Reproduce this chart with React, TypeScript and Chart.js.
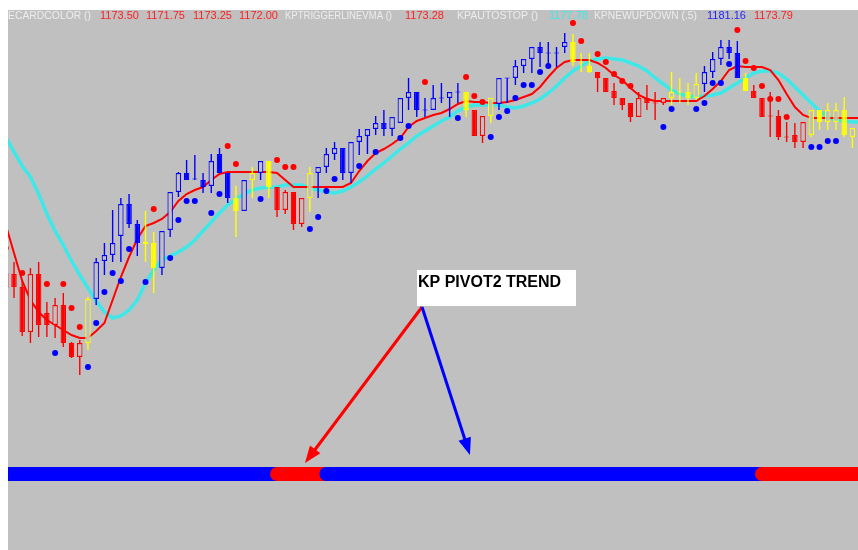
import { useEffect, useRef } from "react";
import { Chart, registerables } from "chart.js";

Chart.register(...registerables);

// ---------------- data ----------------
const FIRST_BAR = -1; // bar number of the first entry in every per-bar array

// candle colour from KP card colour study: R = red, B = blue, Y = yellow
const candleColors = [
  "R", "R", "R", "R", "R", "R", "R", "R", "R", "R",
  "Y", "B", "B", "B", "B", "B", "B", "Y", "Y", "B",
  "B", "B", "B", "B", "B", "B", "B", "B", "Y", "B",
  "Y", "B", "Y", "R", "R", "R", "R", "Y", "B", "B",
  "B", "B", "B", "B", "B", "B", "B", "B", "B", "B",
  "B", "B", "B", "B", "B", "B", "Y", "R", "R", "Y",
  "B", "B", "B", "B", "B", "B", "B", "B", "B", "Y",
  "Y", "Y", "R", "R", "R", "R", "R", "R", "R", "R",
  "R", "Y", "Y", "Y", "Y", "B", "B", "B", "B", "B",
  "Y", "R", "R", "R", "R", "R", "R", "R", "Y", "Y",
  "Y", "Y", "Y", "Y",
];

const opens = [
  1157.7, 1157.6, 1156.3, 1151.8, 1157.6, 1153.7, 1152.5, 1154.5, 1150.7, 1149.3,
  1150.7, 1155.1, 1158.9, 1159.5, 1161.4, 1164.6, 1162.6, 1160.8, 1160.7, 1158.2,
  1162.0, 1165.8, 1167.7, 1167.1, 1167.0, 1166.4, 1169.6, 1167.7, 1165.2, 1163.9,
  1167.0, 1167.7, 1168.9, 1166.3, 1164.0, 1165.8, 1162.6, 1165.2, 1167.7, 1168.3,
  1169.6, 1170.2, 1167.7, 1170.8, 1171.4, 1172.1, 1172.7, 1172.1, 1172.7, 1175.2,
  1175.8, 1174.0, 1174.0, 1175.2, 1175.2, 1175.8, 1175.8, 1174.0, 1171.4, 1173.4,
  1174.6, 1177.2, 1177.2, 1178.4, 1179.1, 1180.3, 1179.7, 1179.7, 1180.3, 1180.8,
  1178.7, 1178.4, 1177.8, 1177.2, 1175.9, 1175.2, 1174.7, 1173.3, 1175.2, 1174.7,
  1174.7, 1175.2, 1175.8, 1175.8, 1175.2, 1176.6, 1177.8, 1179.1, 1180.3, 1179.7,
  1177.2, 1175.9, 1175.2, 1173.4, 1173.4, 1171.3, 1171.5, 1170.8, 1171.5, 1174.0,
  1172.8, 1172.8, 1174.0, 1171.3,
];

const highs = [
  1158.2, 1158.8, 1157.0, 1158.2, 1158.8, 1154.8, 1155.2, 1155.7, 1150.8, 1151.0,
  1155.3, 1159.2, 1160.7, 1164.0, 1165.2, 1165.6, 1163.0, 1163.9, 1161.8, 1161.9,
  1165.8, 1167.8, 1169.0, 1169.5, 1167.7, 1169.6, 1170.2, 1167.7, 1166.4, 1167.0,
  1168.3, 1168.9, 1168.9, 1166.3, 1166.0, 1165.8, 1165.2, 1168.3, 1168.3, 1170.2,
  1170.8, 1170.2, 1170.8, 1172.1, 1172.1, 1173.4, 1174.0, 1173.3, 1175.2, 1177.2,
  1175.8, 1175.2, 1176.5, 1176.7, 1175.8, 1176.7, 1175.8, 1174.0, 1173.4, 1175.2,
  1177.2, 1177.2, 1179.0, 1179.1, 1180.3, 1180.8, 1180.8, 1180.3, 1181.7, 1181.6,
  1179.7, 1179.7, 1177.8, 1177.2, 1176.7, 1175.2, 1174.7, 1175.8, 1176.5, 1175.8,
  1175.2, 1177.8, 1177.2, 1176.7, 1177.7, 1178.4, 1179.8, 1181.0, 1181.0, 1180.9,
  1177.7, 1176.5, 1175.2, 1175.8, 1174.0, 1172.8, 1172.7, 1172.8, 1174.0, 1174.0,
  1174.7, 1174.7, 1175.3, 1172.2,
];

const lows = [
  1155.8, 1155.2, 1151.4, 1150.7, 1151.3, 1151.3, 1151.2, 1150.3, 1149.2, 1147.5,
  1150.0, 1154.5, 1157.5, 1158.8, 1158.8, 1162.2, 1159.4, 1158.8, 1155.7, 1157.5,
  1161.3, 1165.3, 1167.0, 1167.0, 1165.7, 1165.7, 1167.7, 1164.7, 1161.3, 1163.9,
  1165.2, 1167.0, 1165.2, 1163.3, 1163.6, 1162.0, 1162.3, 1163.8, 1165.2, 1167.7,
  1169.0, 1167.0, 1166.7, 1169.5, 1169.6, 1171.5, 1171.4, 1171.4, 1172.7, 1174.0,
  1173.3, 1173.3, 1174.0, 1174.7, 1173.3, 1174.7, 1173.3, 1171.4, 1170.7, 1172.7,
  1174.0, 1174.7, 1176.5, 1177.7, 1177.7, 1178.3, 1178.3, 1178.3, 1179.7, 1178.4,
  1177.8, 1177.7, 1175.8, 1175.8, 1174.5, 1174.0, 1172.8, 1173.3, 1174.0, 1173.0,
  1174.5, 1174.5, 1174.7, 1174.5, 1175.0, 1175.8, 1177.2, 1178.5, 1179.1, 1177.2,
  1175.9, 1175.2, 1173.3, 1171.3, 1171.0, 1170.8, 1170.2, 1170.2, 1171.3, 1172.0,
  1172.0, 1172.0, 1171.3, 1170.2,
];

const closes = [
  1156.2, 1156.3, 1151.8, 1157.6, 1152.5, 1152.5, 1154.5, 1150.7, 1149.3, 1150.7,
  1155.1, 1158.8, 1159.5, 1160.7, 1164.6, 1162.6, 1160.7, 1160.6, 1158.2, 1161.9,
  1165.8, 1167.7, 1167.0, 1167.1, 1166.3, 1168.9, 1167.7, 1165.2, 1163.9, 1167.0,
  1167.7, 1168.9, 1166.3, 1164.0, 1165.8, 1162.6, 1165.2, 1167.7, 1168.3, 1169.6,
  1170.2, 1167.7, 1170.8, 1171.4, 1172.1, 1172.7, 1172.1, 1173.3, 1175.2, 1175.8,
  1174.0, 1174.0, 1175.2, 1175.2, 1175.8, 1175.8, 1174.0, 1171.4, 1173.4, 1175.2,
  1177.2, 1177.2, 1178.4, 1179.1, 1180.3, 1179.7, 1179.7, 1179.7, 1180.8, 1178.8,
  1178.7, 1177.8, 1177.2, 1175.8, 1175.2, 1174.5, 1173.3, 1175.2, 1174.7, 1174.7,
  1175.2, 1175.8, 1175.8, 1175.2, 1176.6, 1177.8, 1179.1, 1180.3, 1179.7, 1177.2,
  1175.9, 1175.2, 1173.3, 1173.4, 1171.3, 1171.3, 1170.8, 1172.8, 1174.0, 1172.8,
  1174.0, 1174.0, 1171.5, 1172.2,
];

// KPTRIGGERLINEVMA (red line), one value per bar from FIRST_BAR
const triggerLine = [
  1162.5, 1159.7, 1156.9, 1155.0, 1153.8, 1153.0, 1152.5, 1152.0, 1151.5, 1151.2,
  1151.2, 1151.9, 1152.7, 1155.0, 1157.3, 1159.3, 1161.1, 1162.4, 1162.7, 1163.1,
  1163.8, 1164.9, 1165.6, 1166.0, 1166.3, 1167.0, 1167.6, 1167.8, 1167.8, 1167.8,
  1167.8, 1167.8, 1167.8, 1167.7, 1167.0, 1166.3, 1166.3, 1166.3, 1166.3, 1166.3,
  1166.3, 1166.3, 1166.7, 1167.9, 1168.9, 1169.7, 1170.1, 1170.6, 1171.2, 1172.3,
  1172.9, 1173.2, 1173.5, 1173.7, 1174.1, 1174.6, 1174.9, 1174.8, 1174.8, 1174.7,
  1174.7, 1174.8, 1175.0, 1175.3, 1175.6, 1176.3, 1177.3, 1178.2, 1178.8, 1179.0,
  1179.0, 1179.0, 1178.7, 1178.2, 1177.5, 1177.0, 1176.2, 1175.5, 1175.1, 1174.9,
  1174.9, 1174.9, 1174.9, 1174.9, 1174.9, 1175.4, 1176.1, 1176.9, 1178.0, 1178.4,
  1178.3, 1178.3, 1178.3, 1178.0, 1177.0, 1175.6, 1174.3, 1173.5, 1173.2, 1173.2,
  1173.2, 1173.2, 1173.2, 1173.2, 1173.2,
];

// KPAUTOSTOP (cyan line)
const autoStop = [
  1171.3, 1169.8, 1168.4, 1167.3, 1165.6, 1163.6, 1161.9, 1160.5, 1158.9, 1157.5,
  1156.2, 1154.9, 1153.8, 1153.2, 1153.4, 1154.0, 1155.0, 1156.7, 1158.0, 1159.0,
  1159.4, 1159.8, 1160.3, 1161.0, 1161.9, 1162.8, 1163.7, 1164.5, 1165.1, 1165.6,
  1166.0, 1166.2, 1166.3, 1166.3, 1166.5, 1166.5, 1166.5, 1166.2, 1166.0, 1165.8,
  1165.7, 1165.9, 1166.3, 1166.8, 1167.4, 1168.1, 1168.7, 1169.4, 1170.1, 1170.7,
  1171.4, 1171.9, 1172.4, 1172.9, 1173.3, 1173.9, 1174.3, 1174.5, 1174.5, 1174.5,
  1174.5, 1174.3, 1174.2, 1174.4, 1174.7, 1175.1, 1175.7, 1176.4, 1177.2, 1177.9,
  1178.4, 1178.9, 1179.1, 1179.2, 1179.1, 1179.0, 1178.7, 1178.4, 1177.9, 1177.2,
  1176.6, 1176.0, 1175.6, 1175.4, 1175.3, 1175.4, 1175.5, 1175.7, 1176.2, 1176.7,
  1177.2, 1177.7, 1177.9, 1177.9, 1177.7, 1177.1, 1176.3, 1175.5, 1174.7, 1173.9,
  1173.3, 1173.0, 1172.9, 1172.8, 1172.8,
];

// KPNEWUPDOWN dots
const upDotBars = [
  -1, 1, 4, 6, 7, 8, 17, 26, 27, 32, 33, 34, 50, 55, 56, 57,
  68, 69, 71, 72, 73, 74, 75, 88, 89, 90, 91, 92, 93, 94,
];
const upDotValues = [
  1160.2, 1157.7, 1156.6, 1156.6, 1154.2, 1152.3, 1164.1, 1170.4, 1168.6, 1169.0,
  1168.3, 1168.3, 1176.8, 1177.3, 1175.4, 1174.8, 1182.7, 1180.9, 1179.6, 1178.8,
  1177.6, 1176.9, 1176.4, 1182.0, 1178.9, 1178.2, 1176.4, 1175.1, 1175.1, 1173.3,
];
const downDotBars = [
  5, 9, 10, 11, 12, 13, 14, 16, 19, 20, 21, 22, 24, 25, 30, 36, 37, 38, 39, 42,
  44, 47, 48, 54, 58, 59, 60, 61, 62, 63, 64, 65, 79, 80, 83, 84, 85, 86, 87,
  97, 98, 99, 100,
];
const downDotValues = [
  1149.7, 1148.3, 1152.7, 1155.8, 1157.7, 1156.9, 1160.1, 1156.8, 1159.2, 1163.0,
  1164.9, 1164.9, 1163.7, 1165.6, 1165.1, 1162.1, 1163.3, 1165.9, 1167.1, 1168.4,
  1169.8, 1171.2, 1172.4, 1173.2, 1171.3, 1173.3, 1173.9, 1175.2, 1176.5, 1176.5,
  1177.8, 1178.4, 1172.3, 1174.1, 1174.1, 1174.7, 1176.7, 1176.7, 1178.6,
  1170.3, 1170.3, 1170.9, 1170.9,
];

// KP PIVOT2 TREND state per bar (B = up/blue, R = down/red), from FIRST_BAR
const trendStates =
  "BBBBBBBBBB" + "BBBBBBBBBB" + "BBBBBBBBBB" + "BBB" +
  "RRRRRR" +
  "BBBBBBBBBB" + "BBBBBBBBBB" + "BBBBBBBBBB" + "BBBBBBBBBB" + "BBBBBBBBBB" + "BBB" +
  "RRRRRRRRRRRRR";
const TREND_LEVEL = 1137.6;

// header / status line texts
const headerItems = [
  { text: "ECARDCOLOR ()", kind: "label", x: 0, w: 83 },
  { text: "1173.50", kind: "red", x: 92, w: 0 },
  { text: "1171.75", kind: "red", x: 138, w: 0 },
  { text: "1173.25", kind: "red", x: 185, w: 0 },
  { text: "1172.00", kind: "red", x: 231, w: 0 },
  { text: "KPTRIGGERLINEVMA ()", kind: "label", x: 277, w: 107 },
  { text: "1173.28", kind: "red", x: 397, w: 0 },
  { text: "KPAUTOSTOP ()", kind: "label", x: 449, w: 81 },
  { text: "1177.78", kind: "cyan", x: 541, w: 0 },
  { text: "KPNEWUPDOWN (.5)", kind: "label", x: 586, w: 103 },
  { text: "1181.16", kind: "blue", x: 699, w: 0 },
  { text: "1173.79", kind: "red", x: 746, w: 0 },
];

// callout (in bar / price units)
const callout = {
  text: "KP PIVOT2 TREND",
  left: 49.03, right: 68.37, top: 1158.0, bottom: 1154.4,
  apex: { bar: 49.64, price: 1154.3 },
  redTip: { bar: 35.4, price: 1138.7 },
  blueTip: { bar: 55.47, price: 1139.5 },
};

// ---------------- styles ----------------
const BG = "#c0c0c0";
const RED = "#ff0000";
const BLUE = "#0000ff";
const YELLOW = "#ffff00";
const CYAN = "#3ee8e8";
const LABEL = "#ececec";
const colorOf: Record<string, string> = { R: RED, B: BLUE, Y: YELLOW };
const headerColor: Record<string, string> = { label: LABEL, red: "#ff1e1e", cyan: CYAN, blue: "#1e1eff" };

const X_MIN = -0.73;
const X_MAX = 102.68;

function drawArrow(ctx: CanvasRenderingContext2D, x0: number, y0: number, x1: number, y1: number, color: string) {
  const ang = Math.atan2(y1 - y0, x1 - x0);
  const headLen = 17;
  const headW = 6.5;
  const bx = x1 - headLen * Math.cos(ang);
  const by = y1 - headLen * Math.sin(ang);
  ctx.strokeStyle = color;
  ctx.fillStyle = color;
  ctx.lineWidth = 3;
  ctx.lineCap = "butt";
  ctx.beginPath();
  ctx.moveTo(x0, y0);
  ctx.lineTo(bx + 2 * Math.cos(ang), by + 2 * Math.sin(ang));
  ctx.stroke();
  ctx.beginPath();
  ctx.moveTo(x1, y1);
  ctx.lineTo(bx + headW * Math.sin(ang), by - headW * Math.cos(ang));
  ctx.lineTo(bx - headW * Math.sin(ang), by + headW * Math.cos(ang));
  ctx.closePath();
  ctx.fill();
}

const decorPlugin = {
  id: "decor",
  beforeDraw(chart: any) {
    const { ctx, width, height } = chart;
    ctx.save();
    ctx.fillStyle = BG;
    ctx.fillRect(0, 0, width, height);
    ctx.restore();
  },
  afterDraw(chart: any) {
    const ctx: CanvasRenderingContext2D = chart.ctx;
    const xs = chart.scales.x;
    const ys = chart.scales.y;
    ctx.save();
    // status line
    ctx.font = "11px 'Liberation Sans', Arial, sans-serif";
    ctx.textBaseline = "alphabetic";
    ctx.textAlign = "left";
    for (const h of headerItems) {
      ctx.fillStyle = headerColor[h.kind];
      if (h.w > 0) ctx.fillText(h.text, h.x, 9, h.w);
      else ctx.fillText(h.text, h.x, 9);
    }
    // callout arrows
    const ax = xs.getPixelForValue(callout.apex.bar);
    const ay = ys.getPixelForValue(callout.apex.price);
    drawArrow(ctx, ax, ay, xs.getPixelForValue(callout.redTip.bar), ys.getPixelForValue(callout.redTip.price), RED);
    drawArrow(ctx, ax, ay, xs.getPixelForValue(callout.blueTip.bar), ys.getPixelForValue(callout.blueTip.price), BLUE);
    // callout box
    const l = xs.getPixelForValue(callout.left);
    const r = xs.getPixelForValue(callout.right);
    const t = ys.getPixelForValue(callout.top);
    const b = ys.getPixelForValue(callout.bottom);
    ctx.fillStyle = "#ffffff";
    ctx.fillRect(l, t, r - l, b - t);
    ctx.fillStyle = "#000000";
    ctx.font = "bold 16px 'Liberation Sans', Arial, sans-serif";
    ctx.fillText(callout.text, l + 1, t + 17);
    ctx.restore();
  },
};

export default function App() {
  const ref = useRef<HTMLCanvasElement | null>(null);

  useEffect(() => {
    if (!ref.current) return;
    const barNo = (k: number) => FIRST_BAR + k;

    const bodyData = opens.map((o, k) => {
      const c = closes[k];
      let lo = Math.min(o, c);
      let hi = Math.max(o, c);
      if (hi - lo < 0.1) {
        const m = (hi + lo) / 2;
        lo = m - 0.05;
        hi = m + 0.05;
      }
      return { x: barNo(k), y: [lo, hi] };
    });
    const wickData = highs.map((h, k) => ({ x: barNo(k), y: [lows[k], h] }));
    const candleCol = candleColors.map((c) => colorOf[c]);
    const bodyFill = opens.map((o, k) => (closes[k] > o + 0.05 ? BG : candleCol[k]));

    const lineData = (vals: number[]) => vals.map((v, k) => ({ x: barNo(k), y: v }));
    const trendData = trendStates.split("").map((_, k) => ({ x: barNo(k), y: TREND_LEVEL }));

    const chart = new Chart(ref.current, {
      type: "bar",
      data: {
        datasets: [
          {
            type: "line",
            label: "KP PIVOT2 TREND",
            data: trendData,
            borderColor: BLUE,
            borderWidth: 14,
            borderCapStyle: "round",
            pointRadius: 0,
            tension: 0,
            order: 7,
            segment: {
              borderColor: (ctx: any) => (trendStates[ctx.p0DataIndex] === "R" ? RED : BLUE),
            },
          } as any,
          {
            type: "line",
            label: "KPAUTOSTOP",
            data: lineData(autoStop),
            borderColor: CYAN,
            borderWidth: 3.5,
            pointRadius: 0,
            tension: 0,
            order: 6,
          },
          {
            type: "line",
            label: "KPTRIGGERLINEVMA",
            data: lineData(triggerLine),
            borderColor: RED,
            borderWidth: 2,
            pointRadius: 0,
            tension: 0,
            order: 5,
          },
          {
            type: "bar",
            label: "wicks",
            data: wickData as any,
            backgroundColor: candleCol,
            borderWidth: 0,
            barThickness: 1.4,
            inflateAmount: 0,
            stack: "candles",
            order: 4,
          } as any,
          {
            type: "bar",
            label: "bodies",
            data: bodyData as any,
            backgroundColor: bodyFill,
            borderColor: candleCol,
            borderWidth: 1.2,
            borderSkipped: false,
            barThickness: 5.5,
            inflateAmount: 0,
            stack: "candles",
            order: 3,
          } as any,
          {
            type: "scatter",
            label: "up",
            data: upDotBars.map((b, k) => ({ x: b, y: upDotValues[k] })),
            backgroundColor: RED,
            borderWidth: 0,
            pointRadius: 3,
            order: 2,
          } as any,
          {
            type: "scatter",
            label: "down",
            data: downDotBars.map((b, k) => ({ x: b, y: downDotValues[k] })),
            backgroundColor: BLUE,
            borderWidth: 0,
            pointRadius: 3,
            order: 1,
          } as any,
        ],
      },
      options: {
        animation: false,
        responsive: false,
        maintainAspectRatio: false,
        events: [],
        layout: { padding: 0, autoPadding: false },
        plugins: { legend: { display: false }, tooltip: { enabled: false } },
        scales: {
          x: { type: "linear", min: X_MIN, max: X_MAX, display: false, stacked: true, offset: false },
          y: { type: "linear", min: 1130, max: 1184, display: false, stacked: false },
        },
      },
      plugins: [decorPlugin],
    } as any);

    return () => chart.destroy();
  }, []);

  return (
    <div style={{ position: "absolute", left: 8, top: 10, width: 850, height: 540 }}>
      <canvas ref={ref} width={850} height={540} style={{ display: "block", width: 850, height: 540 }} />
    </div>
  );
}
